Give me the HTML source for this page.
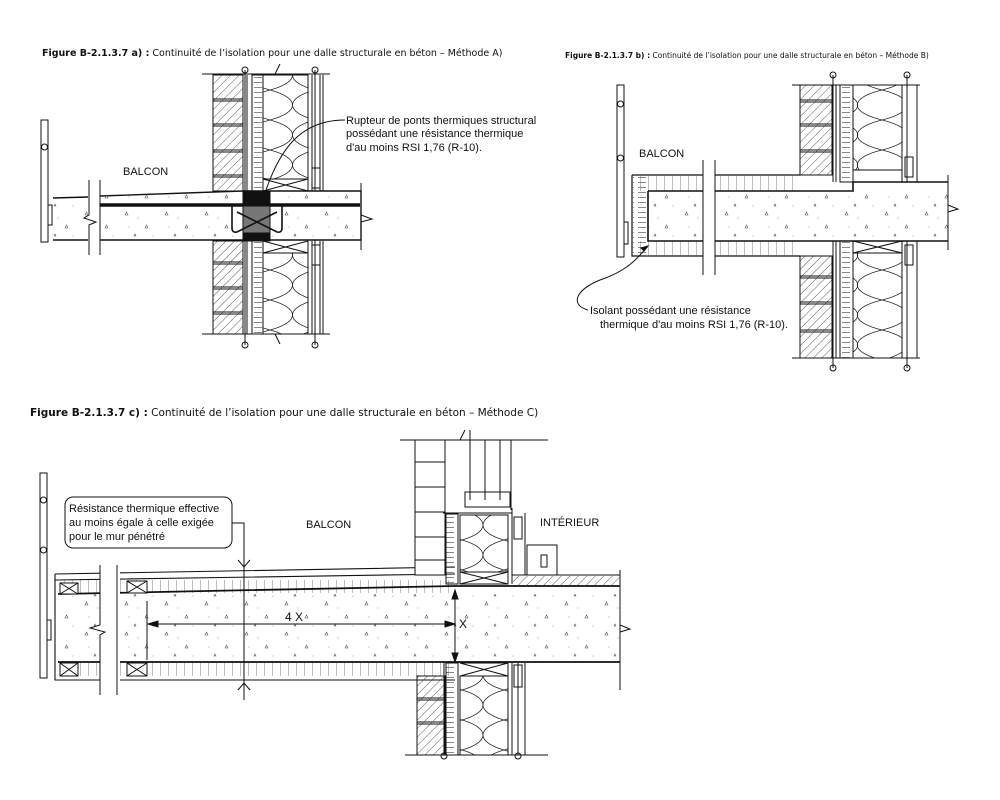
<!DOCTYPE html>
<html><head><meta charset="utf-8"><style>
body{margin:0;background:#fff;width:1000px;height:800px;overflow:hidden}
svg{display:block}
text{font-family:"Liberation Sans",sans-serif;fill:#111}
.t{font-family:"DejaVu Sans",sans-serif}
</style></head><body>
<svg width="1000" height="800" viewBox="0 0 1000 800" xmlns="http://www.w3.org/2000/svg">
<defs>
<pattern id="h" width="6" height="6" patternUnits="userSpaceOnUse" patternTransform="rotate(45)"><line x1="0" y1="0" x2="0" y2="6" stroke="#333" stroke-width="0.8"/></pattern>
<pattern id="ins" width="45" height="30" patternUnits="userSpaceOnUse"><path d="M0,0 C30,8 30,22 0,30 M45,0 C15,8 15,22 45,30" fill="none" stroke="#222" stroke-width="0.8"/></pattern>
<pattern id="ins2" width="49" height="30" patternUnits="userSpaceOnUse"><path d="M0,0 C33,8 33,22 0,30 M49,0 C16,8 16,22 49,30" fill="none" stroke="#222" stroke-width="0.8"/></pattern>
<pattern id="ins3" width="42" height="30" patternUnits="userSpaceOnUse"><path d="M0,0 C28,8 28,22 0,30 M42,0 C14,8 14,22 42,30" fill="none" stroke="#222" stroke-width="0.8"/></pattern>
<pattern id="tick" width="8" height="6" patternUnits="userSpaceOnUse"><line x1="0" y1="0" x2="0" y2="6" stroke="#444" stroke-width="0.7"/></pattern>
<pattern id="vt" width="12" height="5" patternUnits="userSpaceOnUse"><line x1="2" y1="2.5" x2="10" y2="2.5" stroke="#555" stroke-width="0.7"/></pattern>
<pattern id="conc" width="40" height="30" patternUnits="userSpaceOnUse"><path d="M5,5 l3,0 -1.5,-3z M25,18 l3,0 -1.5,-3z M14,26 l2,0 -1,-2z" fill="none" stroke="#555" stroke-width="0.6"/><circle cx="18" cy="8" r="0.5" fill="#777"/><circle cx="33" cy="26" r="0.5" fill="#777"/><circle cx="9" cy="17" r="0.5" fill="#777"/></pattern>
</defs>
<g stroke="#111" fill="none" stroke-width="1">

<!-- ===== Figure a ===== -->
<rect x="41" y="120" width="7" height="122"/>
<circle cx="44.5" cy="147" r="3"/>
<rect x="48" y="205" width="4" height="20" fill="#fff"/>
<path d="M53,198 L88,197 M100,196 L243,191 L361,191 L361,240 L100,240 M88,240 L53,240 Z" stroke-width="1.4"/>
<rect x="100" y="193" width="261" height="47" fill="url(#conc)" stroke="none"/>
<rect x="53" y="199" width="35" height="41" fill="url(#conc)" stroke="none"/>
<line x1="100" y1="205" x2="360" y2="205" stroke-width="3.5"/>
<rect x="88" y="180" width="12" height="75" fill="#fff" stroke="none"/>
<path d="M89,180 V215 L84,218 L96,222 L89,225 V255 M100,180 V255"/>
<path d="M361,183 V250 M361,215 L372,219 L361,222"/>
<rect x="243" y="191" width="27" height="13" fill="#111"/>
<rect x="243" y="206" width="27" height="27" fill="#777"/>
<rect x="243" y="233" width="27" height="8" fill="#111"/>
<path d="M232,206 L232,228 Q232,233 237,232 L277,212 M282,206 L282,228 Q282,233 277,232 L237,212" stroke-width="1.6"/>
<g>
<rect x="213" y="75" width="30" height="116" fill="url(#h)"/>
<path d="M213,99 H243 M213,101 H243 M213,124 H243 M213,126 H243 M213,150 H243 M213,152 H243 M213,175 H243 M213,177 H243"/>
<line x1="247" y1="75" x2="247" y2="191"/>
<rect x="252" y="75" width="11" height="116" fill="url(#vt)"/>
<rect x="263" y="75" width="45" height="104" fill="url(#ins)"/>
<path d="M263,179 H308 M263,179 L308,191 M308,179 L263,191"/>
<line x1="308" y1="75" x2="308" y2="191"/><line x1="312" y1="75" x2="312" y2="191"/><line x1="320" y1="75" x2="320" y2="191"/><line x1="323" y1="75" x2="323" y2="191"/>
<rect x="312" y="168" width="8" height="20"/>
<line x1="202" y1="74" x2="330" y2="74"/>
</g>
<g>
<rect x="213" y="241" width="30" height="93" fill="url(#h)"/>
<path d="M213,262 H243 M213,264 H243 M213,287 H243 M213,289 H243 M213,312 H243 M213,314 H243"/>
<line x1="247" y1="241" x2="247" y2="334"/>
<rect x="252" y="241" width="11" height="93" fill="url(#vt)"/>
<rect x="263" y="253" width="45" height="81" fill="url(#ins)"/>
<path d="M263,253 H308 M263,241 L308,253 M308,241 L263,253"/>
<line x1="308" y1="241" x2="308" y2="334"/><line x1="312" y1="241" x2="312" y2="334"/><line x1="320" y1="241" x2="320" y2="334"/><line x1="323" y1="241" x2="323" y2="334"/>
<rect x="312" y="245" width="8" height="20"/>
<line x1="202" y1="334" x2="330" y2="334"/>
</g>
<path d="M245,70 V191 M315,70 V191 M245,240 V345 M315,240 V345"/>
<circle cx="245" cy="70" r="3"/><circle cx="315" cy="70" r="3"/><circle cx="245" cy="345" r="3"/><circle cx="315" cy="345" r="3"/>
<path d="M275,74 L280,64 M275,334 L280,344"/>
<path d="M345,120 C300,120 280,150 266,190"/>

<!-- ===== Figure b ===== -->
<rect x="617" y="85" width="7" height="172"/>
<circle cx="620.5" cy="104" r="3"/><circle cx="620.5" cy="158" r="3"/>
<rect x="624" y="222" width="4" height="22"/>
<path d="M632,175 H800 M632,175 V256 H800" stroke-width="1.2"/>
<rect x="633" y="176" width="167" height="15" fill="url(#tick)" stroke="none"/>
<rect x="633" y="241" width="167" height="15" fill="url(#tick)" stroke="none"/>
<rect x="633" y="176" width="15" height="80" fill="url(#vt)" stroke="none"/>
<path d="M648,191 H853 V182 H948 M648,191 V241 H948" stroke-width="1.6"/>
<rect x="649" y="192" width="299" height="49" fill="url(#conc)" stroke="none"/>
<rect x="703" y="160" width="12" height="115" fill="#fff" stroke="none"/>
<path d="M703,160 V275 M715,160 V275"/>
<path d="M948,175 V250 M948,205 L958,209 L948,212"/>
<rect x="800" y="85" width="32" height="90" fill="url(#h)"/>
<path d="M800,100 H832 M800,102 H832 M800,124 H832 M800,126 H832 M800,150 H832 M800,152 H832"/>
<line x1="836" y1="85" x2="836" y2="182"/>
<rect x="840" y="85" width="13" height="97" fill="url(#vt)"/>
<rect x="853" y="85" width="49" height="85" fill="url(#ins2)"/>
<path d="M853,170 H902"/>
<line x1="902" y1="85" x2="902" y2="182"/><line x1="917" y1="85" x2="917" y2="182"/>
<rect x="905" y="157" width="8" height="20"/>
<rect x="800" y="256" width="32" height="102" fill="url(#h)"/>
<path d="M800,276 H832 M800,278 H832 M800,302 H832 M800,304 H832 M800,330 H832 M800,332 H832"/>
<line x1="836" y1="241" x2="836" y2="358"/>
<rect x="840" y="241" width="13" height="117" fill="url(#vt)"/>
<rect x="853" y="253" width="49" height="105" fill="url(#ins2)"/>
<path d="M853,253 H902 M853,241 L902,253 M902,241 L853,253"/>
<line x1="902" y1="241" x2="902" y2="358"/><line x1="917" y1="241" x2="917" y2="358"/>
<rect x="905" y="245" width="8" height="20"/>
<path d="M792,85 H920 M792,358 H920"/>
<path d="M833,75 V182 M907,75 V182 M833,241 V368 M907,241 V368"/>
<circle cx="833" cy="75" r="3"/><circle cx="907" cy="75" r="3"/><circle cx="833" cy="368" r="3"/><circle cx="907" cy="368" r="3"/>
<path d="M588,310 C570,305 575,290 600,280 C630,270 640,255 648,246"/>
<path d="M648,246 l-7,2 3,3z" fill="#111"/>

<!-- ===== Figure c ===== -->
<rect x="40" y="473" width="7" height="205"/>
<circle cx="43.5" cy="500" r="3"/><circle cx="43.5" cy="550" r="3"/>
<rect x="47" y="620" width="4" height="20"/>
<path d="M55,574 L455,567 M55,574 V680 H455 M55,580 L455,574" stroke-width="1.1"/>
<rect x="60" y="580" width="395" height="13" fill="url(#tick)" stroke="none"/>
<rect x="60" y="663" width="395" height="13" fill="url(#tick)" stroke="none"/>
<path d="M58,594 L455,586 L620,586 M58,662 H620" stroke-width="1.8"/>
<rect x="59" y="594" width="561" height="68" fill="url(#conc)" stroke="none"/>
<rect x="60" y="583" width="18" height="11" fill="#fff"/><path d="M60,583 L78,594 M78,583 L60,594"/>
<rect x="60" y="663" width="18" height="13" fill="#fff"/><path d="M60,663 L78,676 M78,663 L60,676"/>
<rect x="127" y="581" width="20" height="12" fill="#fff"/><path d="M127,581 L147,593 M147,581 L127,593"/>
<rect x="127" y="663" width="20" height="13" fill="#fff"/><path d="M127,663 L147,676 M147,663 L127,676"/>
<rect x="100" y="565" width="20" height="130" fill="#fff" stroke="none"/>
<path d="M100,565 V625 L90,628 L105,632 L100,635 V695 M117,565 V695"/>
<path d="M620,570 V690 M620,625 L630,629 L620,632"/>
<rect x="415" y="440" width="30" height="135" fill="#fff"/>
<path d="M415,462 H445 M415,487 H445 M415,512 H445 M415,537 H445 M415,560 H445"/>
<path d="M400,440 H548 M460,440 L465,430 M470,430 V500 M485,440 V500 M500,440 V500 M511,440 V510"/>
<rect x="465" y="492" width="45" height="15"/>
<path d="M443,513 H512 V508"/>
<rect x="446" y="514" width="12" height="70" fill="url(#vt)"/>
<rect x="460" y="515" width="48" height="57" fill="url(#ins3)"/>
<path d="M460,515 H508 M460,572 H508 V584 H460Z M460,572 L508,584 M508,572 L460,584"/>
<rect x="514" y="517" width="8" height="22"/>
<path d="M512,513 V584 M525,513 V575"/>
<path d="M512,575 H620 M512,586 H620"/>
<rect x="513" y="576" width="107" height="10" fill="url(#h)" stroke="none"/>
<rect x="527" y="545" width="30" height="30"/>
<rect x="541" y="555" width="6" height="12"/>
<rect x="417" y="676" width="28" height="79" fill="url(#h)"/>
<path d="M417,698 H445 M417,700 H445 M417,722 H445 M417,724 H445"/>
<rect x="446" y="663" width="12" height="92" fill="url(#vt)"/>
<rect x="460" y="676" width="48" height="79" fill="url(#ins3)"/>
<path d="M460,663 H508 V676 H460 M460,663 L508,676 M508,663 L460,676"/>
<rect x="514" y="665" width="8" height="22"/>
<path d="M512,663 V755 M525,663 V755 M405,755 H548"/>
<path d="M444,663 V755 M518,663 V755"/>
<circle cx="444" cy="756" r="3"/><circle cx="518" cy="756" r="3"/>
<path d="M147,601 V660 M148,624 H455 M455,590 V662 M244,537 V700"/>
<path d="M148,624 l10,-3 0,6z M455,624 l-10,-3 0,6z M455,590 l-3,9 6,0z M455,662 l-3,-9 6,0z" fill="#111"/>
<path d="M238,560 L244,567 L250,560 M238,690 L244,683 L250,690"/>
<rect x="65" y="497" width="167" height="51" rx="8"/>
<path d="M232,523 H244 V537"/>
</g>
<g font-size="9">
<text x="42" y="56" class="t" font-size="9.5"><tspan font-weight="bold">Figure B-2.1.3.7 a) :</tspan> Continuité de l’isolation pour une dalle structurale en béton – Méthode A)</text>
<text x="565" y="58" class="t" font-size="7.5"><tspan font-weight="bold">Figure B-2.1.3.7 b) :</tspan> Continuité de l’isolation pour une dalle structurale en béton – Méthode B)</text>
<text x="30" y="416" class="t" font-size="10.5"><tspan font-weight="bold">Figure B-2.1.3.7 c) :</tspan> Continuité de l’isolation pour une dalle structurale en béton – Méthode C)</text>
</g>
<g font-size="11">
<text x="123" y="175">BALCON</text>
<text x="346" y="124">Rupteur de ponts thermiques structural</text>
<text x="346" y="137">possédant une résistance thermique</text>
<text x="346" y="151">d'au moins RSI 1,76 (R-10).</text>
<text x="639" y="157">BALCON</text>
<text x="590" y="314">Isolant possédant une résistance</text>
<text x="600" y="328">thermique d'au moins RSI 1,76 (R-10).</text>
<text x="306" y="528">BALCON</text>
<text x="540" y="526">INTÉRIEUR</text>
<text x="69" y="512">Résistance thermique effective</text>
<text x="69" y="526">au moins égale à celle exigée</text>
<text x="69" y="540">pour le mur pénétré</text>
<text x="285" y="621" font-size="12">4 X</text>
<text x="459" y="628" font-size="12">X</text>
</g>
</svg>
</body></html>
